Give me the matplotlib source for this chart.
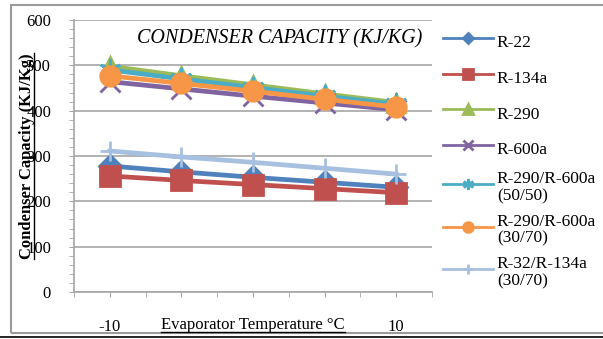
import matplotlib
matplotlib.use('Agg')
import matplotlib.pyplot as plt
from matplotlib.lines import Line2D
from matplotlib.patches import Rectangle

plt.rcParams['font.family'] = ['Liberation Serif', 'DejaVu Serif']

temps = [-10, -5, 0, 5, 10]
tick_labels = ['-10', '', '', '', '10']
names = ['R-22', 'R-134a', 'R-290', 'R-600a',
         'R-290/R-600a\n(50/50)', 'R-290/R-600a\n(30/70)', 'R-32/R-134a\n(30/70)']
r22 = [278, 265, 253, 242, 231]
r134a = [256, 246, 237, 228, 219]
r290 = [498, 477, 457, 437, 418]
r600a = [464, 448, 432, 417, 402]
mix5050 = [490, 470, 451, 432, 414]
mix3070 = [477, 460, 443, 425, 408]
r32mix = [311, 298, 286, 273, 260]
series = [r22, r134a, r290, r600a, mix5050, mix3070, r32mix]

colors = ['#4F81BD', '#C0504D', '#9BBB59', '#8064A2', '#4BACC6', '#F79646', '#A7C0E0']
markers = ['D', 's', '^', 'x', (6, 2, 0), 'o', '+']
msizes = [11, 14, 13, 14, 16, 14, 14]

fig = plt.figure(figsize=(6.03, 3.39), dpi=100)
W, H = 603, 339

# chart frame
fig.add_artist(Rectangle((11 / W, 1 - 333 / H), 1.0, (333 - 5) / H, transform=fig.transFigure,
                         fill=False, ec='#9a9a9a', lw=1.5))
fig.add_artist(Line2D([0.0, 1.0], [1 - 337 / H] * 2, transform=fig.transFigure, color='black', lw=1.2))

ax = fig.add_axes([74 / W, 1 - 292 / H, (432 - 74) / W, (292 - 20) / H])
x = list(range(len(temps)))
for vals, name, c, m, ms in zip(series, names, colors, markers, msizes):
    ax.plot(x, vals, color=c, lw=3.4, marker=m, ms=ms, mfc=c, mec=c, mew=2, label=name)

ax.set_xlim(-0.5, len(temps) - 0.5)
ax.set_ylim(0, 600)
ax.set_yticks(range(0, 601, 100))
ax.set_yticks(range(0, 601, 20), minor=True)
ax.set_xticks(x)
ax.set_xticklabels(tick_labels)
ax.set_xticks([i + 0.5 for i in range(-1, len(temps))], minor=True)
ax.grid(axis='y', which='major', color='#a6a6a6', lw=1.2)
ax.set_axisbelow(True)
for s in ['top', 'right']:
    ax.spines[s].set_visible(False)
for s in ['left', 'bottom']:
    ax.spines[s].set_color('#a6a6a6')
    ax.spines[s].set_linewidth(1.2)
ax.tick_params(axis='both', which='both', color='#a6a6a6', length=3.5, labelsize=12)
ax.tick_params(axis='y', pad=13)
ax.tick_params(axis='x', pad=16)

ax.text(0.575, 0.93, 'CONDENSER CAPACITY (KJ/KG)', transform=ax.transAxes,
        ha='center', va='center', style='italic', fontsize=14.5)
xl = ax.text(0.5, -0.12, 'Evaporator Temperature °C', transform=ax.transAxes,
             ha='center', va='center', fontsize=12)
yl = ax.text(-0.13, 0.5, 'Condenser Capacity (KJ/Kg)', transform=ax.transAxes,
             ha='center', va='center', rotation=90, fontsize=12, fontweight='bold')

leg = ax.legend(loc='upper left', bbox_to_anchor=(443 / W, 1 - 29 / H), bbox_transform=fig.transFigure,
                frameon=False, fontsize=12.5, handlelength=2.9, handletextpad=0.2,
                handleheight=1.9, labelspacing=0.57, markerscale=0.5, borderpad=0, borderaxespad=0)
for h in leg.get_lines():
    h.set_linewidth(2)
for t in leg.get_texts():
    t.set_linespacing(1.05)

# underline the axis titles
fig.canvas.draw()
r = fig.canvas.get_renderer()
bb = xl.get_window_extent(r)
fig.add_artist(Line2D([bb.x0 / W, bb.x1 / W], [(bb.y0 + 1) / H] * 2, transform=fig.transFigure,
                      color='black', lw=1))
bb = yl.get_window_extent(r)
fig.add_artist(Line2D([(bb.x1 - 1) / W] * 2, [bb.y0 / H, bb.y1 / H], transform=fig.transFigure,
                      color='black', lw=1))

fig.savefig('out.png', dpi=100)
